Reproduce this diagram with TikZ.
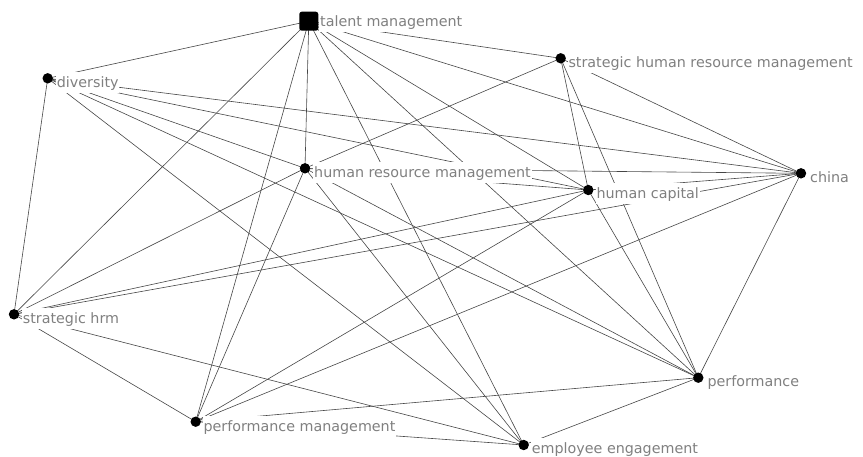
\documentclass[tikz,border=0pt]{standalone}
\usepackage{fontspec}
\setmainfont{DejaVu Sans}
\definecolor{labgray}{RGB}{128,128,128}
\definecolor{edgegray}{RGB}{70,70,70}
\pgfdeclarelayer{bg}
\pgfdeclarelayer{mid}
\pgfsetlayers{bg,mid,main}
\begin{document}
\begin{tikzpicture}[x=1pt,y=-1pt,
  dot/.style={circle,fill=black,inner sep=0pt,minimum size=10.4pt},
  sq/.style={rectangle,fill=black,inner sep=0pt,minimum size=19pt,rounded corners=2.5pt},
  lab/.style={anchor=base west,fill=white,text=labgray,inner xsep=0.8pt,inner ysep=4.5pt,
    text height=11pt,text depth=1pt,font=\fontsize{14.3}{16}\selectfont},
  edge/.style={draw=edgegray,line width=0.6pt}]
\useasboundingbox (0,0) rectangle (863,456);
% nodes
\node[sq]  (tm)   at (308.8,21.2) {};
\node[dot] (shrm) at (560.7,58.3) {};
\node[dot] (div)  at (47.7,78.3) {};
\node[dot] (hrm)  at (305,168.3) {};
\node[dot] (hc)   at (588.3,190) {};
\node[dot] (ch)   at (801,173.3) {};
\node[dot] (sh)   at (14,314.3) {};
\node[dot] (perf) at (698.3,377.7) {};
\node[dot] (pm)   at (195.7,421.7) {};
\node[dot] (ee)   at (523.7,445) {};
% labels
\begin{pgfonlayer}{mid}
\node[lab] (ltm)   at (319.2,26.5) {talent management};
\node[lab] (lshrm) at (567.5,67.2) {strategic human resource management};
\node[lab] (ldiv)  at (55.9,87) {diversity};
\node[lab] (lhrm)  at (313.2,177.3) {human resource management};
\node[lab] (lhc)   at (595.5,198.5) {human capital};
\node[lab] (lch)   at (809.2,182.5) {china};
\node[lab] (lsh)   at (21.9,323.3) {strategic hrm};
\node[lab] (lperf) at (706.5,386.7) {performance};
\node[lab] (lpm)   at (202.5,431) {performance management};
\node[lab] (lee)   at (530.9,453.7) {employee engagement};
\end{pgfonlayer}
% edges
\begin{pgfonlayer}{bg}
\foreach \a/\b in {tm/div,tm/shrm,tm/hrm,tm/hc,tm/ch,tm/sh,tm/perf,tm/pm,tm/ee,
  div/ch,div/hc,div/hrm,div/perf,div/ee,div/sh,
  hrm/shrm,hrm/ch,hrm/hc,hrm/sh,hrm/pm,hrm/ee,hrm/perf,
  shrm/hc,shrm/perf,shrm/ch,
  hc/ch,hc/sh,hc/pm,hc/perf,
  ch/sh,ch/pm,ch/perf,
  sh/pm,sh/ee,pm/perf,pm/ee,ee/perf}
  \draw[edge] (\a.center) -- (\b.center);
\end{pgfonlayer}
\end{tikzpicture}
\end{document}
